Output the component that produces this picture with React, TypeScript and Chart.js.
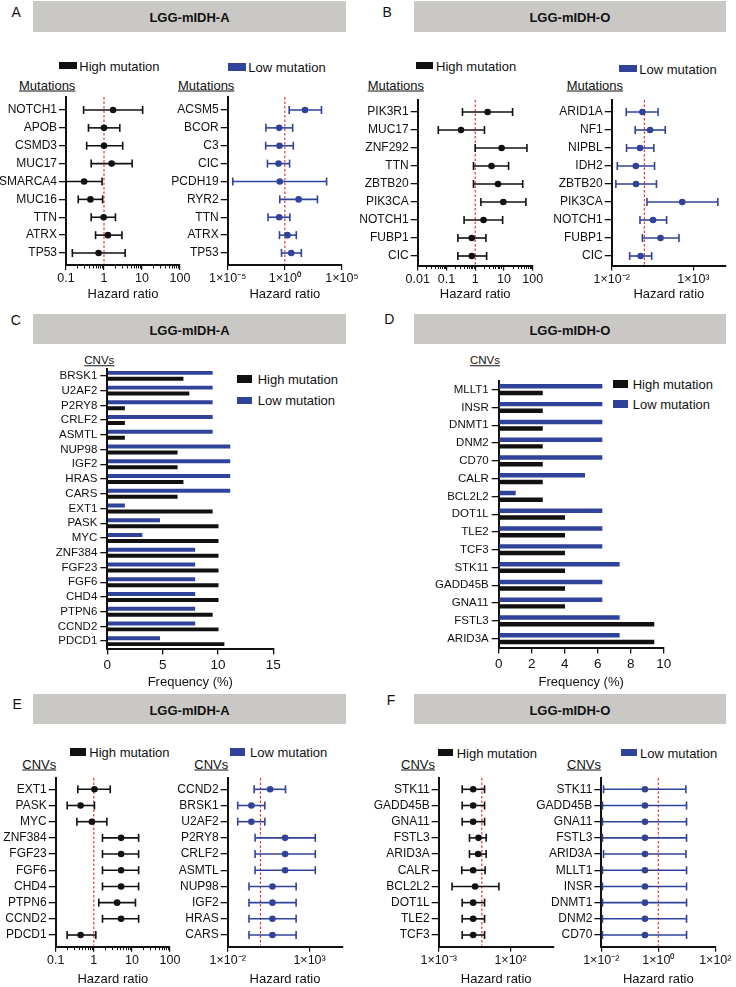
import React, { useEffect, useRef } from 'react';
import { Chart, registerables } from 'chart.js';

Chart.register(...registerables);

const FONT = '"Liberation Sans", Arial, Helvetica, sans-serif';
Chart.defaults.font.family = FONT;
Chart.defaults.color = '#111';

const BLUE = '#30439B';
const BLACK = '#111111';
const RED = '#E4262C';
const HEADER_GRAY = '#CAC8C5';

// ---------- Panel A : mutations, LGG-mIDH-A ----------
const A1_GENES = ['NOTCH1', 'APOB', 'CSMD3', 'MUC17', 'SMARCA4', 'MUC16', 'TTN', 'ATRX', 'TP53'];
const A1_HR = [1.73, 1.0, 1.0, 1.59, 0.3, 0.44, 0.98, 1.27, 0.72];
const A1_LO = [0.29, 0.39, 0.35, 0.46, 0.1, 0.21, 0.46, 0.6, 0.147];
const A1_HI = [10.4, 2.6, 3.1, 5.5, 0.89, 0.92, 2.0, 2.97, 3.6];
const A1_XTICKS = [0.1, 1, 10, 100];
const A1_XLABELS = ['0.1', '1', '10', '100'];

const A2_GENES = ['ACSM5', 'BCOR', 'C3', 'CIC', 'PCDH19', 'RYR2', 'TTN', 'ATRX', 'TP53'];
const A2_HR = [58, 0.32, 0.34, 0.28, 0.36, 16, 0.32, 1.7, 3.6];
const A2_LO = [2.4, 0.022, 0.021, 0.03, 0.000028, 0.36, 0.034, 0.34, 0.51];
const A2_HI = [1600, 4.8, 5.5, 2.6, 4500, 710, 2.75, 10, 27.5];
const A2_XTICKS = [1e-5, 1, 1e5];
const A2_XLABELS = ['1×10⁻⁵', '1×10⁰', '1×10⁵'];

// ---------- Panel B : mutations, LGG-mIDH-O ----------
const B1_GENES = ['PIK3R1', 'MUC17', 'ZNF292', 'TTN', 'ZBTB20', 'PIK3CA', 'NOTCH1', 'FUBP1', 'CIC'];
const B1_HR = [2.7, 0.32, 8.3, 3.7, 6.2, 9.5, 1.95, 0.76, 0.76];
const B1_LO = [0.36, 0.052, 1.0, 0.87, 0.87, 1.58, 0.41, 0.25, 0.25];
const B1_HI = [20, 2.1, 63, 14.5, 45, 58, 9, 2.36, 2.5];
const B1_XTICKS = [0.01, 0.1, 1, 10, 100];
const B1_XLABELS = ['0.01', '0.1', '1', '10', '100'];

const B2_GENES = ['ARID1A', 'NF1', 'NIPBL', 'IDH2', 'ZBTB20', 'PIK3CA', 'NOTCH1', 'FUBP1', 'CIC'];
const B2_HR = [0.76, 2.24, 0.54, 0.3, 0.31, 209, 3.4, 9.8, 0.59];
const B2_LO = [0.078, 0.275, 0.081, 0.022, 0.018, 1.45, 0.54, 0.76, 0.126];
const B2_HI = [6.9, 19, 3.8, 4.2, 5.5, 31600, 23, 132, 2.8];
const B2_XTICKS = [1e-2, 1e3];
const B2_XLABELS = ['1×10⁻²', '1×10³'];

// ---------- Panel C : CNV frequency, LGG-mIDH-A ----------
const C_GENES = ['BRSK1', 'U2AF2', 'P2RY8', 'CRLF2', 'ASMTL', 'NUP98', 'IGF2', 'HRAS', 'CARS', 'EXT1', 'PASK', 'MYC', 'ZNF384', 'FGF23', 'FGF6', 'CHD4', 'PTPN6', 'CCND2', 'PDCD1'];
const C_LOW = [9.52, 9.52, 9.52, 9.52, 9.52, 11.11, 11.11, 11.11, 11.11, 1.59, 4.76, 3.17, 7.94, 7.94, 7.94, 7.94, 7.94, 7.94, 4.76];
const C_HIGH = [6.88, 7.41, 1.59, 1.59, 1.59, 6.35, 6.35, 6.88, 6.35, 9.52, 10.05, 10.05, 10.05, 10.05, 10.05, 10.05, 9.52, 10.05, 10.58];
const C_XTICKS = [0, 5, 10, 15];

// ---------- Panel D : CNV frequency, LGG-mIDH-O ----------
const D_GENES = ['MLLT1', 'INSR', 'DNMT1', 'DNM2', 'CD70', 'CALR', 'BCL2L2', 'DOT1L', 'TLE2', 'TCF3', 'STK11', 'GADD45B', 'GNA11', 'FSTL3', 'ARID3A'];
const D_LOW = [6.28, 6.28, 6.28, 6.28, 6.28, 5.23, 1.03, 6.28, 6.28, 6.28, 7.33, 6.28, 6.28, 7.33, 7.33];
const D_HIGH = [2.67, 2.67, 2.67, 2.67, 2.67, 2.67, 2.67, 4.02, 4.02, 4.02, 4.02, 4.02, 4.02, 9.43, 9.43];
const D_XTICKS = [0, 2, 4, 6, 8, 10];

// ---------- Panel E : CNVs hazard ratio, LGG-mIDH-A ----------
const E1_GENES = ['EXT1', 'PASK', 'MYC', 'ZNF384', 'FGF23', 'FGF6', 'CHD4', 'PTPN6', 'CCND2', 'PDCD1'];
const E1_HR = [1.04, 0.45, 0.89, 5.2, 5.2, 5.2, 5.2, 4.1, 5.2, 0.45];
const E1_LO = [0.38, 0.2, 0.36, 1.69, 1.69, 1.69, 1.69, 1.35, 1.69, 0.2];
const E1_HI = [2.7, 1.04, 2.2, 15, 15, 15, 15, 12.4, 15, 1.13];
const E1_XTICKS = [0.1, 1, 10, 100];
const E1_XLABELS = ['0.1', '1', '10', '100'];

const E2_GENES = ['CCND2', 'BRSK1', 'U2AF2', 'P2RY8', 'CRLF2', 'ASMTL', 'NUP98', 'IGF2', 'HRAS', 'CARS'];
const E2_HR = [3.9, 0.28, 0.28, 32, 32, 32, 5.4, 5.4, 5.4, 5.4];
const E2_LO = [0.41, 0.041, 0.041, 0.47, 0.47, 0.47, 0.2, 0.2, 0.2, 0.2];
const E2_HI = [34, 1.86, 1.86, 2240, 2240, 2240, 151, 151, 151, 151];
const E2_XTICKS = [1e-2, 1e3];
const E2_XLABELS = ['1×10⁻²', '1×10³'];

// ---------- Panel F : CNVs hazard ratio, LGG-mIDH-O ----------
const F1_GENES = ['STK11', 'GADD45B', 'GNA11', 'FSTL3', 'ARID3A', 'CALR', 'BCL2L2', 'DOT1L', 'TLE2', 'TCF3'];
const F1_HR = [0.25, 0.25, 0.25, 0.59, 0.55, 0.25, 0.34, 0.25, 0.25, 0.25];
const F1_LO = [0.043, 0.043, 0.043, 0.138, 0.138, 0.04, 0.0085, 0.043, 0.043, 0.043];
const F1_HI = [1.55, 1.55, 1.55, 2.0, 2.0, 1.7, 15.5, 1.55, 1.55, 1.55];
const F1_XTICKS = [1e-3, 1e2];
const F1_XLABELS = ['1×10⁻³', '1×10²'];

const F2_GENES = ['STK11', 'GADD45B', 'GNA11', 'FSTL3', 'ARID3A', 'MLLT1', 'INSR', 'DNMT1', 'DNM2', 'CD70'];
const F2_HR = [0.34, 0.34, 0.34, 0.34, 0.34, 0.34, 0.34, 0.34, 0.34, 0.34];
const F2_LO = [0.012, 0.011, 0.011, 0.011, 0.012, 0.011, 0.011, 0.011, 0.011, 0.011];
const F2_HI = [9.3, 9.8, 9.8, 9.8, 9.3, 9.8, 9.8, 9.8, 9.8, 9.8];
const F2_XTICKS = [1e-2, 1, 1e2];
const F2_XLABELS = ['1×10⁻²', '1×10⁰', '1×10²'];

// ---------- plugins ----------
const refLinePlugin = {
  id: 'refLine',
  beforeDatasetsDraw(chart: any, _args: any, opts: any) {
    if (!opts || opts.value == null) return;
    const sc = chart.scales.x;
    const x = sc.getPixelForValue(opts.value);
    const { top, bottom } = chart.chartArea;
    const ctx = chart.ctx;
    ctx.save();
    ctx.strokeStyle = RED;
    ctx.lineWidth = 1.1;
    ctx.setLineDash([2.5, 2]);
    ctx.beginPath();
    ctx.moveTo(x, top);
    ctx.lineTo(x, bottom - 1);
    ctx.stroke();
    ctx.restore();
  },
};

const minorTicksPlugin = {
  id: 'minorTicks',
  afterDraw(chart: any, _args: any, opts: any) {
    if (!opts || !opts.enabled) return;
    const sc = chart.scales.x;
    const ctx = chart.ctx;
    const y0 = sc.top + 1;
    const k0 = Math.floor(Math.log10(sc.min));
    const k1 = Math.ceil(Math.log10(sc.max));
    ctx.save();
    ctx.strokeStyle = BLACK;
    ctx.lineWidth = 1;
    ctx.beginPath();
    for (let k = k0; k < k1; k++) {
      for (let m = 2; m <= 9; m++) {
        const v = m * Math.pow(10, k);
        if (v <= sc.min || v >= sc.max) continue;
        const x = Math.round(sc.getPixelForValue(v)) + 0.5;
        ctx.moveTo(x, y0);
        ctx.lineTo(x, y0 + 2.5);
      }
    }
    ctx.stroke();
    ctx.restore();
  },
};

type Box = { l: number; t: number; r: number; b: number; left: number; right: number; bottom: number };

function canvasGeom(p: Box) {
  const cx = Math.floor(p.left);
  const cy = Math.floor(p.t - 10);
  const cw = Math.ceil(p.right) - cx;
  const ch = Math.round(p.bottom) - cy;
  return { cx, cy, cw, ch, yw: p.l - cx, padT: p.t - cy, padR: cx + cw - p.r, xh: cy + ch - p.b };
}

type ForestProps = Box & {
  genes: string[]; hr: number[]; lo: number[]; hi: number[]; color: string;
  xMin: number; xMax: number; xTicks: number[]; xLabels: string[]; minor: boolean;
  padTopRows: number; padBotRows: number;
};

function Forest(p: ForestProps) {
  const ref = useRef<HTMLCanvasElement>(null);
  const g = canvasGeom(p);
  useEffect(() => {
    const n = p.genes.length;
    const errSets = p.genes.map((_, i) => ({
      type: 'scatter',
      showLine: true,
      data: [{ x: p.lo[i], y: i }, { x: p.hi[i], y: i }],
      borderColor: p.color,
      borderWidth: 1.6,
      pointStyle: 'line',
      rotation: 90,
      pointRadius: 4,
      pointHoverRadius: 4,
      pointBorderColor: p.color,
      pointBorderWidth: 1.6,
      clip: false,
    }));
    const ptSet = {
      type: 'scatter',
      data: p.genes.map((_, i) => ({ x: p.hr[i], y: i })),
      pointStyle: 'circle',
      pointRadius: 3.3,
      pointHoverRadius: 3.3,
      backgroundColor: p.color,
      borderColor: p.color,
      borderWidth: 0,
      clip: false,
    };
    const chart = new Chart(ref.current as HTMLCanvasElement, {
      type: 'scatter',
      data: { datasets: [...errSets, ptSet] as any },
      plugins: [refLinePlugin, minorTicksPlugin],
      options: {
        animation: false,
        responsive: false,
        events: [],
        layout: { padding: { left: 0, top: g.padT, right: g.padR, bottom: 0 } },
        plugins: {
          legend: { display: false },
          tooltip: { enabled: false },
          refLine: { value: 1 },
          minorTicks: { enabled: p.minor },
        } as any,
        scales: {
          x: {
            type: 'logarithmic',
            min: p.xMin,
            max: p.xMax,
            afterBuildTicks: (s: any) => { s.ticks = p.xTicks.map((v) => ({ value: v })); },
            afterFit: (s: any) => { s.height = g.xh; s.paddingLeft = 0; s.paddingRight = 0; },
            ticks: {
              autoSkip: false, maxRotation: 0, padding: 1.5, color: BLACK,
              font: { size: 12.5, family: FONT },
              callback: (_v: any, idx: number) => p.xLabels[idx],
            },
            grid: { display: true, drawOnChartArea: false, drawTicks: true, tickLength: 5, color: BLACK, lineWidth: 1.2 },
            border: { display: true, color: BLACK, width: 2 },
            title: { display: true, text: 'Hazard ratio', color: BLACK, font: { size: 13, family: FONT }, padding: 0 },
          },
          y: {
            type: 'linear',
            reverse: true,
            min: -p.padTopRows,
            max: n - 1 + p.padBotRows,
            afterBuildTicks: (s: any) => { s.ticks = p.genes.map((_, i) => ({ value: i })); },
            afterFit: (s: any) => { s.width = g.yw; s.paddingTop = 0; s.paddingBottom = 0; },
            ticks: {
              autoSkip: false, padding: 2, color: BLACK,
              font: { size: 12, family: FONT },
              callback: (_v: any, idx: number) => p.genes[idx],
            },
            grid: { display: true, drawOnChartArea: false, drawTicks: true, tickLength: 7, color: BLACK, lineWidth: 1.3 },
            border: { display: true, color: BLACK, width: 2 },
          },
        } as any,
      },
    } as any);
    return () => chart.destroy();
  }, []);
  return (
    <canvas ref={ref} width={g.cw} height={g.ch}
      style={{ position: 'absolute', left: g.cx, top: g.cy, width: g.cw, height: g.ch }} />
  );
}

type BarsProps = Box & {
  genes: string[]; low: number[]; high: number[]; xMax: number; xTicks: number[];
  cp: number; bp: number;
};

function Bars(p: BarsProps) {
  const ref = useRef<HTMLCanvasElement>(null);
  const g = canvasGeom(p);
  useEffect(() => {
    const chart = new Chart(ref.current as HTMLCanvasElement, {
      type: 'bar',
      data: {
        labels: p.genes,
        datasets: [
          { label: 'Low mutation', data: p.low, backgroundColor: BLUE, borderWidth: 0, categoryPercentage: p.cp, barPercentage: p.bp },
          { label: 'High mutation', data: p.high, backgroundColor: BLACK, borderWidth: 0, categoryPercentage: p.cp, barPercentage: p.bp },
        ],
      },
      options: {
        indexAxis: 'y',
        animation: false,
        responsive: false,
        events: [],
        layout: { padding: { left: 0, top: g.padT, right: g.padR, bottom: 0 } },
        plugins: { legend: { display: false }, tooltip: { enabled: false } },
        scales: {
          x: {
            type: 'linear',
            min: 0,
            max: p.xMax,
            afterBuildTicks: (s: any) => { s.ticks = p.xTicks.map((v) => ({ value: v })); },
            afterFit: (s: any) => { s.height = g.xh; s.paddingLeft = 0; s.paddingRight = 0; },
            ticks: { autoSkip: false, maxRotation: 0, padding: 3, color: BLACK, font: { size: 13.5, family: FONT }, callback: (v: any) => String(v) },
            grid: { display: true, drawOnChartArea: false, drawTicks: true, tickLength: 6, color: BLACK, lineWidth: 1.3 },
            border: { display: true, color: BLACK, width: 2 },
            title: { display: true, text: 'Frequency (%)', color: BLACK, font: { size: 13, family: FONT }, padding: 0 },
          },
          y: {
            type: 'category',
            offset: true,
            afterFit: (s: any) => { s.width = g.yw; s.paddingTop = 0; s.paddingBottom = 0; },
            ticks: { autoSkip: false, padding: 3, color: BLACK, font: { size: 11.5, family: FONT } },
            grid: { display: true, offset: false, drawOnChartArea: false, drawTicks: true, tickLength: 7, color: BLACK, lineWidth: 1.3 },
            border: { display: true, color: BLACK, width: 2 },
          },
        } as any,
      },
    } as any);
    return () => chart.destroy();
  }, []);
  return (
    <canvas ref={ref} width={g.cw} height={g.ch}
      style={{ position: 'absolute', left: g.cx, top: g.cy, width: g.cw, height: g.ch }} />
  );
}

// ---------- HTML text helpers ----------
function Txt(props: { x: number; y: number; size?: number; bold?: boolean; underline?: boolean; children: React.ReactNode }) {
  return (
    <div style={{
      position: 'absolute', left: props.x, top: props.y, transform: 'translateY(-50%)',
      fontSize: props.size ?? 13, lineHeight: 1, fontWeight: props.bold ? 700 : 400,
      textDecoration: props.underline ? 'underline' : 'none', whiteSpace: 'nowrap',
      fontFamily: FONT, color: '#111',
    }}>{props.children}</div>
  );
}

function Header(props: { x: number; y: number; w: number; h: number; text: string }) {
  return (
    <div style={{
      position: 'absolute', left: props.x, top: props.y, width: props.w, height: props.h,
      background: HEADER_GRAY, display: 'flex', alignItems: 'center', justifyContent: 'center',
      fontFamily: FONT, fontWeight: 700, fontSize: 13, color: '#111', boxSizing: 'border-box', paddingTop: 2,
    }}>{props.text}</div>
  );
}

function Legend(props: { x: number; y: number; w: number; h: number; tx: number; ty: number; color: string; text: string; size?: number }) {
  return (
    <>
      <div style={{ position: 'absolute', left: props.x, top: props.y, width: props.w, height: props.h, background: props.color }} />
      <Txt x={props.tx} y={props.ty} size={props.size ?? 13}>{props.text}</Txt>
    </>
  );
}

export default function App() {
  const topRowB = { t: 100, b: 265.5, bottom: 302.3 };
  const botRow = { t: 778, b: 946.7, bottom: 987 };
  return (
    <div style={{ position: 'absolute', left: 0, top: 0, width: 736, height: 987, background: '#fff', overflow: 'hidden', fontFamily: FONT }}>
      {/* panel letters */}
      <Txt x={11.5} y={12} size={14}>A</Txt>
      <Txt x={382.5} y={12} size={14}>B</Txt>
      <Txt x={10.7} y={319.5} size={14}>C</Txt>
      <Txt x={384.3} y={319.3} size={14}>D</Txt>
      <Txt x={12.5} y={703.7} size={14}>E</Txt>
      <Txt x={386.7} y={700.3} size={14}>F</Txt>

      {/* headers */}
      <Header x={33.3} y={0.5} w={312.4} h={31.8} text="LGG-mIDH-A" />
      <Header x={413.7} y={0.5} w={312.3} h={31.8} text="LGG-mIDH-O" />
      <Header x={33.3} y={314.3} w={312.4} h={30} text="LGG-mIDH-A" />
      <Header x={413.7} y={314.3} w={312.3} h={30} text="LGG-mIDH-O" />
      <Header x={33.3} y={694.3} w={312.4} h={30} text="LGG-mIDH-A" />
      <Header x={413.7} y={694.3} w={312.3} h={30} text="LGG-mIDH-O" />

      {/* section labels */}
      <Txt x={19} y={85} underline>Mutations</Txt>
      <Txt x={178} y={85} underline>Mutations</Txt>
      <Txt x={367.7} y={85} underline>Mutations</Txt>
      <Txt x={566.7} y={85} underline>Mutations</Txt>
      <Txt x={84.3} y={361} size={11.5} underline>CNVs</Txt>
      <Txt x={470} y={361} size={11.5} underline>CNVs</Txt>
      <Txt x={22.3} y={764} underline>CNVs</Txt>
      <Txt x={194.3} y={764} underline>CNVs</Txt>
      <Txt x={401} y={764} underline>CNVs</Txt>
      <Txt x={567} y={764} underline>CNVs</Txt>

      {/* legends */}
      <Legend x={59.3} y={62} w={17.4} h={7.3} tx={79.3} ty={65.6} color={BLACK} text="High mutation" />
      <Legend x={228.3} y={63.3} w={17.4} h={7.3} tx={248.3} ty={67} color={BLUE} text="Low mutation" />
      <Legend x={416} y={62} w={17.4} h={7.3} tx={436} ty={65.5} color={BLACK} text="High mutation" />
      <Legend x={619.3} y={65} w={17.4} h={7.3} tx={639.3} ty={68.5} color={BLUE} text="Low mutation" />
      <Legend x={236.7} y={375} w={15} h={7.7} tx={257.7} ty={379} color={BLACK} text="High mutation" />
      <Legend x={236.7} y={396.7} w={15} h={7.3} tx={257.7} ty={400.3} color={BLUE} text="Low mutation" />
      <Legend x={613} y={380} w={15.3} h={7.7} tx={632.7} ty={384} color={BLACK} text="High mutation" />
      <Legend x={613} y={400.3} w={15.3} h={7.7} tx={632.7} ty={404} color={BLUE} text="Low mutation" />
      <Legend x={70} y={748.3} w={16} h={7.3} tx={89.3} ty={752} color={BLACK} text="High mutation" />
      <Legend x={230} y={748.3} w={15.3} h={7.3} tx={250} ty={752} color={BLUE} text="Low mutation" />
      <Legend x={437.7} y={749} w={15.6} h={7} tx={456.7} ty={752.5} color={BLACK} text="High mutation" />
      <Legend x={621} y={749} w={15.7} h={7} tx={640} ty={752.5} color={BLUE} text="Low mutation" />

      {/* Panel A */}
      <Forest genes={A1_GENES} hr={A1_HR} lo={A1_LO} hi={A1_HI} color={BLACK}
        xMin={0.1} xMax={100} xTicks={A1_XTICKS} xLabels={A1_XLABELS} minor
        l={66} r={180} t={97} b={265} left={0} right={200} bottom={302.3} padTopRows={0.727} padBotRows={0.671} />
      <Forest genes={A2_GENES} hr={A2_HR} lo={A2_LO} hi={A2_HI} color={BLUE}
        xMin={1e-5} xMax={1e5} xTicks={A2_XTICKS} xLabels={A2_XLABELS} minor={false}
        l={227.7} r={342} t={97} b={265} left={160} right={364} bottom={302.3} padTopRows={0.727} padBotRows={0.671} />

      {/* Panel B */}
      <Forest genes={B1_GENES} hr={B1_HR} lo={B1_LO} hi={B1_HI} color={BLACK}
        xMin={0.01} xMax={100} xTicks={B1_XTICKS} xLabels={B1_XLABELS} minor
        l={417.7} r={532.7} t={topRowB.t} b={topRowB.b} left={350} right={552} bottom={topRowB.bottom} padTopRows={0.667} padBotRows={0.528} />
      <Forest genes={B2_GENES} hr={B2_HR} lo={B2_LO} hi={B2_HI} color={BLUE}
        xMin={1e-2} xMax={1e5} xTicks={B2_XTICKS} xLabels={B2_XLABELS} minor={false}
        l={611.7} r={726} t={topRowB.t} b={topRowB.b} left={540} right={736} bottom={topRowB.bottom} padTopRows={0.667} padBotRows={0.528} />

      {/* Panel C */}
      <Bars genes={C_GENES} low={C_LOW} high={C_HIGH} xMax={15} xTicks={C_XTICKS} cp={0.81} bp={0.667}
        l={107.3} r={273.3} t={368.5} b={648.5} left={37} right={288} bottom={689.8} />

      {/* Panel D */}
      <Bars genes={D_GENES} low={D_LOW} high={D_HIGH} xMax={10} xTicks={D_XTICKS} cp={0.75} bp={0.67}
        l={498.7} r={663.7} t={380.8} b={647.5} left={428} right={678} bottom={689.8} />

      {/* Panel E */}
      <Forest genes={E1_GENES} hr={E1_HR} lo={E1_LO} hi={E1_HI} color={BLACK}
        xMin={0.1} xMax={100} xTicks={E1_XTICKS} xLabels={E1_XLABELS} minor
        l={55.7} r={170} t={botRow.t} b={botRow.b} left={0} right={190} bottom={botRow.bottom} padTopRows={0.698} padBotRows={0.722} />
      <Forest genes={E2_GENES} hr={E2_HR} lo={E2_LO} hi={E2_HI} color={BLUE}
        xMin={1e-2} xMax={1e5} xTicks={E2_XTICKS} xLabels={E2_XLABELS} minor={false}
        l={227.7} r={342.3} t={botRow.t} b={botRow.b} left={160} right={364} bottom={botRow.bottom} padTopRows={0.698} padBotRows={0.722} />

      {/* Panel F */}
      <Forest genes={F1_GENES} hr={F1_HR} lo={F1_LO} hi={F1_HI} color={BLACK}
        xMin={1e-3} xMax={1e5} xTicks={F1_XTICKS} xLabels={F1_XLABELS} minor={false}
        l={438.7} r={553.7} t={botRow.t} b={botRow.b} left={366} right={575} bottom={botRow.bottom} padTopRows={0.698} padBotRows={0.722} />
      <Forest genes={F2_GENES} hr={F2_HR} lo={F2_LO} hi={F2_HI} color={BLUE}
        xMin={1e-2} xMax={1e2} xTicks={F2_XTICKS} xLabels={F2_XLABELS} minor={false}
        l={601.3} r={715.3} t={botRow.t} b={botRow.b} left={520} right={736} bottom={botRow.bottom} padTopRows={0.698} padBotRows={0.722} />
    </div>
  );
}
